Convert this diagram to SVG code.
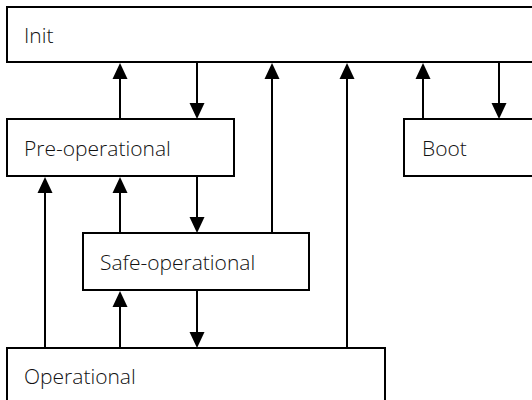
<svg xmlns="http://www.w3.org/2000/svg" width="532" height="400" viewBox="0 0 532 400">
<defs>
<style>
.box{fill:#fff;stroke:#000;stroke-width:2}
.lbl{font-family:"Open Sans","Noto Sans",sans-serif;font-size:21px;font-weight:300;fill:#111}
.c{stroke:#000;stroke-width:2;fill:none;marker-end:url(#ah)}
</style>
<marker id="ah" markerUnits="userSpaceOnUse" markerWidth="16" markerHeight="16" refX="0" refY="7.5" orient="auto" viewBox="0 0 16 15">
<path d="M0,0 L16,7.5 L0,15 Z" fill="#000"/>
</marker>
</defs>
<rect width="532" height="400" fill="#fff"/>
<g id="init"><rect class="box" x="7" y="7" width="540" height="55"/><text class="lbl" x="24" y="42.5">Init</text></g>
<g id="preop"><rect class="box" x="7" y="119" width="227" height="57"/><text class="lbl" x="24" y="156">Pre-operational</text></g>
<g id="boot"><rect class="box" x="404" y="119" width="200" height="57"/><text class="lbl" x="422" y="156">Boot</text></g>
<g id="safeop"><rect class="box" x="83" y="233" width="226" height="57"/><text class="lbl" x="100" y="270">Safe-operational</text></g>
<g id="op"><rect class="box" x="7" y="348" width="378" height="80"/><text class="lbl" x="24" y="384">Operational</text></g>
<g id="connectors">
<path class="c" d="M120,119 V79"/>
<path class="c" d="M197,62 V103"/>
<path class="c" d="M272,233 V79"/>
<path class="c" d="M347,348 V79"/>
<path class="c" d="M423,119 V79"/>
<path class="c" d="M499,62 V103"/>
<path class="c" d="M45,348 V193"/>
<path class="c" d="M120,233 V193"/>
<path class="c" d="M197,176 V217"/>
<path class="c" d="M120,348 V307"/>
<path class="c" d="M197,290 V332"/>
</g>
</svg>
